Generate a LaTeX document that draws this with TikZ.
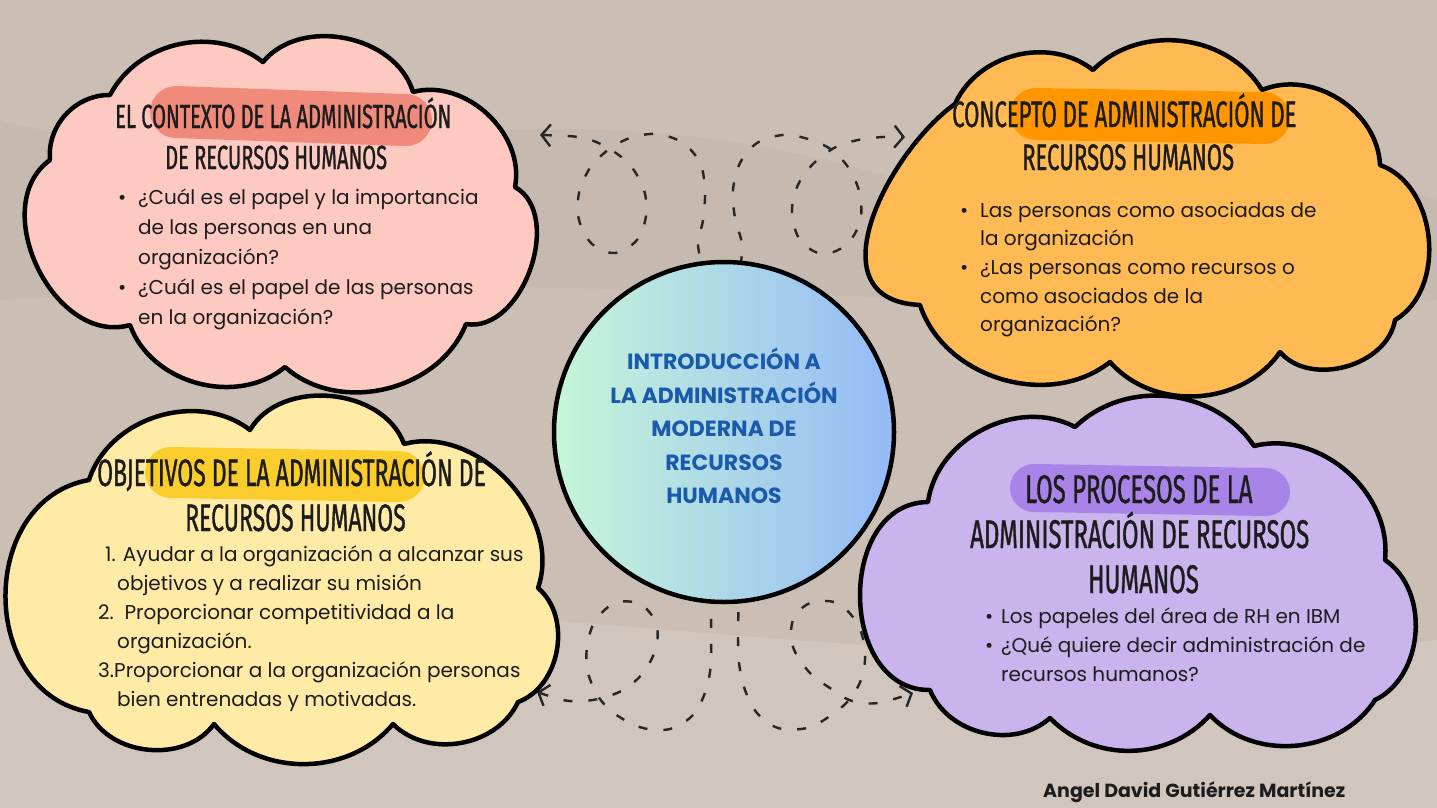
\documentclass[tikz,border=0pt]{standalone}
\usepackage{fontspec}
\setmainfont{Poppins}
\newfontfamily\headfont[FakeStretch=0.6,FakeBold=0.9]{Fira Sans}
\usetikzlibrary{arrows.meta}
\definecolor{bg}{RGB}{203,191,181}
\definecolor{pinkfill}{RGB}{253,201,193}
\definecolor{pinkblob}{RGB}{240,138,122}
\definecolor{orangefill}{RGB}{255,186,84}
\definecolor{orangeblob}{RGB}{255,150,0}
\definecolor{yellowfill}{RGB}{255,234,166}
\definecolor{yellowblob}{RGB}{250,205,45}
\definecolor{purplefill}{RGB}{201,180,238}
\definecolor{purpleblob}{RGB}{168,132,232}
\definecolor{mint}{RGB}{198,246,216}
\definecolor{lblue}{RGB}{148,186,246}
\definecolor{titleblue}{RGB}{25,90,172}
\definecolor{ink}{RGB}{28,28,28}
\begin{document}
\begin{tikzpicture}[x=1pt,y=-1pt,
  cloudline/.style={draw=black,line width=4.5pt,line join=round},
  head/.style={text=ink, inner sep=0pt, anchor=base west},
  body/.style={font=\fontsize{20}{24}\selectfont, text=ink, inner sep=0pt, anchor=base west},
  ttl/.style={font=\bfseries\fontsize{22}{33.5}\selectfont, text=titleblue, align=center, inner sep=0pt},
  loopy/.style={draw=black!85,line width=2.4pt,dash pattern=on 9pt off 16pt,
     {Straight Barb[length=9pt,width=22pt]}-{Straight Barb[length=9pt,width=22pt]}},
]
\useasboundingbox (0,0) rectangle (1437,808);
\fill[bg] (0,0) rectangle (1437,808);
\fill[white,opacity=0.12] (0,620) .. controls (400,560) and (900,700) .. (1437,640) -- (1437,808) -- (0,808) -- cycle;
\fill[black,opacity=0.025] (0,120) .. controls (300,200) and (500,60) .. (900,180) .. controls (1100,240) and (1300,150) .. (1437,200) -- (1437,300) .. controls (1100,330) and (700,260) .. (0,300) -- cycle;

% curly dashed connectors (behind the circle)
\coordinate (tl) at (540,135);
\coordinate (tr) at (905,137);
\coordinate (bl) at (537,692);
\coordinate (br) at (913,693);
\draw[loopy] plot[smooth, tension=0.55] coordinates {(tl) (583,138) (608,148) (630,165) (644,190) (646,216) (637,240) (615,253) (592,244) (579,220) (579,193) (590,168) (608,150) (630,138) (657,134) (683,143) (700,163) (705,190) (703,220) (698,245) (706,272) (722,282) (738,272) (742,245) (735,218) (733,190) (740,163) (757,143) (783,135) (808,139) (832,150) (850,170) (860,195) (860,222) (846,245) (822,254) (800,240) (792,213) (797,187) (812,165) (834,148) (858,140) (883,137) (tr)};
\draw[loopy] plot[smooth, tension=0.55] coordinates {(bl) (570,701) (598,699) (623,690) (643,673) (656,648) (656,623) (640,604) (615,603) (595,621) (587,647) (588,673) (600,699) (618,716) (643,728) (670,729) (693,715) (706,690) (711,663) (711,635) (712,600) (718,580) (725,575) (732,580) (738,600) (738,637) (739,663) (745,690) (757,713) (778,728) (807,728) (830,716) (850,699) (862,677) (865,650) (857,623) (837,603) (810,603) (793,620) (793,647) (810,673) (833,690) (852,701) (878,703) (br)};

% central circle
\node[circle, draw=black, line width=4.5pt, minimum size=340pt, inner sep=0pt, left color=mint, right color=lblue] (ctr) at (724,432) {};
\node[ttl] (title) at (724,426) {INTRODUCCIÓN A\\LA ADMINISTRACIÓN\\MODERNA DE\\RECURSOS\\HUMANOS};

% pink cloud
\draw[cloudline, fill=pinkfill] (50,160) to[bend left=48] (110,95) to[bend left=50] (263,62) to[bend left=62] (413,92) to[bend left=58] (515,187) to[bend left=80] (466,324) to[bend left=55] (285,367) to[bend left=55] (130,325) to[bend left=80, looseness=1.1] (50,160) -- cycle;
\fill[pinkblob, rotate around={-2:(290,117)}] [rounded corners=26pt] (150,90) rectangle (432,142);
\node[head, font=\headfont\fontsize{33.5}{35}\selectfont] (p1) at (115,128) {EL CONTEXTO DE LA ADMINISTRACIÓN};
\node[head, font=\headfont\fontsize{33.5}{35}\selectfont] (p2) at (165,169) {DE RECURSOS HUMANOS};
\node[body] (pb1) at (118,204) {\textbullet};
\node[body] (pl1) at (138,204) {¿Cuál es el papel y la importancia};
\node[body] (pl2) at (138,234) {de las personas en una};
\node[body] (pl3) at (138,264) {organización?};
\node[body] (pb2) at (118,294) {\textbullet};
\node[body] (pl4) at (138,294) {¿Cuál es el papel de las personas};
\node[body] (pl5) at (138,324) {en la organización?};

% orange cloud
\draw[cloudline, fill=orangefill] (920,305) .. controls (810,300) and (890,150) .. (955,104) to[bend left=52] (1093,70) to[bend left=52] (1262,90) to[bend left=55] (1380,165) to[bend left=65] (1395,320) to[bend left=65] (1280,352) to[bend left=52] (1110,362) to[bend left=55] (920,305) -- cycle;
\fill[orangeblob, rotate around={-1:(1150,116)}] [rounded corners=26pt] (1010,90) rectangle (1290,142);
\node[head, font=\headfont\fontsize{36.8}{38}\selectfont] (o1) at (952,127) {CONCEPTO DE ADMINISTRACIÓN DE};
\node[head, font=\headfont\fontsize{36.8}{38}\selectfont] (o2) at (1022,170) {RECURSOS HUMANOS};
\node[body] (ob1) at (960,217) {\textbullet};
\node[body] (ol1) at (980,217) {Las personas como asociadas de};
\node[body] (ol2) at (980,245) {la organización};
\node[body] (ob2) at (960,274) {\textbullet};
\node[body] (ol3) at (980,274) {¿Las personas como recursos o};
\node[body] (ol4) at (980,303) {como asociados de la};
\node[body] (ol5) at (980,331) {organización?};

% yellow cloud
\draw[cloudline, fill=yellowfill] (89,712) to[bend left=80, looseness=1.25] (89,480) to[bend left=55] (250,430) to[bend left=65] (404,444) to[bend left=62] (538,588) to[bend left=60] (518,702) to[bend left=55] (393,724) to[bend left=50] (214,724) to[bend left=60] (89,712) -- cycle;
\fill[yellowblob, rotate around={-1:(285,474)}] [rounded corners=26pt] (145,449) rectangle (425,500);
\node[head, font=\headfont\fontsize{38.3}{40}\selectfont] (y1) at (97,486) {OBJETIVOS DE LA ADMINISTRACIÓN DE};
\node[head, font=\headfont\fontsize{38.3}{40}\selectfont] (y2) at (185,531) {RECURSOS HUMANOS};
\node[body] (yl1) at (105,561) {1. Ayudar a la organización a alcanzar sus};
\node[body] (yl2) at (117,590) {objetivos y a realizar su misión};
\node[body] (yl3) at (98,619) {2.\ \ Proporcionar competitividad a la};
\node[body] (yl4) at (117,648) {organización.};
\node[body] (yl5) at (98,677) {3.Proporcionar a la organización personas};
\node[body] (yl6) at (117,706) {bien entrenadas y motivadas.};

% purple cloud
\draw[cloudline, fill=purplefill] (930,690) to[bend left=90, looseness=1.25] (928,502) to[bend left=55] (1075,427) to[bend left=50] (1254,446) to[bend left=55] (1385,560) to[bend left=60] (1375,700) to[bend left=52] (1210,715) to[bend left=47] (1050,718) to[bend left=55] (930,690) -- cycle;
\fill[purpleblob, rotate around={-1:(1150,490)}] [rounded corners=24pt] (1010,466) rectangle (1290,514);
\node[head, font=\headfont\fontsize{40}{42}\selectfont] (u1) at (1025,503) {LOS PROCESOS DE LA};
\node[head, font=\headfont\fontsize{40}{42}\selectfont] (u2) at (970,548) {ADMINISTRACIÓN DE RECURSOS};
\node[head, font=\headfont\fontsize{40}{42}\selectfont] (u3) at (1088,593) {HUMANOS};
\node[body] (ub1) at (985,623) {\textbullet};
\node[body] (ul1) at (1001,623) {Los papeles del área de RH en IBM};
\node[body] (ub2) at (985,652) {\textbullet};
\node[body] (ul2) at (1001,652) {¿Qué quiere decir administración de};
\node[body] (ul3) at (1001,681) {recursos humanos?};

% author
\node[font=\bfseries\fontsize{19}{22}\selectfont, text=ink, inner sep=0pt, anchor=base west] (author) at (1043,797) {Angel David Gutiérrez Martínez};
\end{tikzpicture}
\end{document}
